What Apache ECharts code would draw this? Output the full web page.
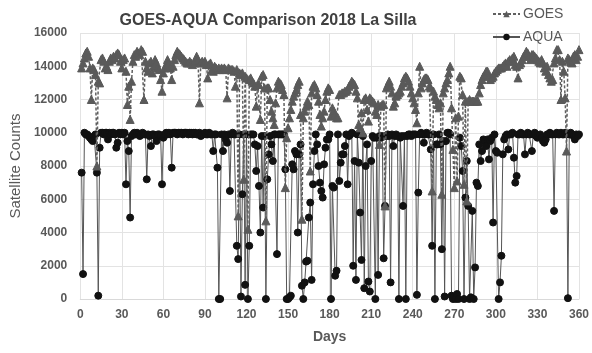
<!DOCTYPE html>
<html>
<head>
<meta charset="utf-8">
<script src="https://cdn.jsdelivr.net/npm/echarts@6/dist/echarts.min.js"></script>
<style>html,body{margin:0;padding:0;background:#fff}#c{width:592px;height:353px}</style>
</head>
<body>
<div id="c"></div>
<script>
const xTicks = [0, 30, 60, 90, 120, 150, 180, 210, 240, 270, 300, 330, 360];
const yTicks = [0, 2000, 4000, 6000, 8000, 10000, 12000, 14000, 16000];

// GOES counts, day 1 .. 360
const goes = [
13900,14200,14500,14800,14900,14600,13900,12000,13900,13800,
13500,8000,13100,13000,14400,14500,14300,13900,14000,13800,
14300,14500,14400,14600,14500,14700,14800,14700,14300,13900,
14400,14500,13700,11700,12800,10800,13100,14300,14700,14600,
14900,14800,14700,15000,14900,12000,14300,13900,13700,14200,
14300,13600,14000,14400,14200,13900,13800,13200,12500,13600,
13900,14100,14400,14200,13900,13200,14000,14400,14700,14900,
14800,14700,14600,14500,14400,14300,14200,14200,14300,14200,
14100,14200,14300,14600,14400,11800,14200,14300,14200,14300,
14100,13300,14100,14200,13800,13700,14000,13900,13800,13900,
13800,13900,13800,13900,13800,12100,13900,13800,13800,13800,
13700,12800,13800,5000,13600,13500,13600,7200,13400,13300,
4200,13200,13300,13100,13000,12800,11600,12900,12900,10800,
13400,13500,12700,4700,12700,12700,12000,11300,10900,10500,
11800,12700,13100,13000,12900,12600,12300,6700,9700,10300,
10900,11400,11900,12200,12400,12600,12900,13100,11100,4800,
10900,11300,11600,11900,11700,7700,12400,12800,12900,12700,
12300,11900,11100,10400,10900,11300,12000,12500,12700,12600,
11000,11500,11300,11100,10900,10900,12300,12300,12400,12400,
12500,12500,12600,12800,12900,13100,13000,12900,12500,12100,
10500,10300,11200,10000,12000,12100,11400,10700,12100,12000,
11900,11800,11300,11100,11700,9300,11600,11700,11700,5600,
12700,12900,13100,12800,12400,11600,11800,12200,12300,12400,
12500,12800,13000,13300,13400,13300,13100,12800,12400,12100,
11800,11400,10600,12400,14000,12700,13000,13200,13300,13300,
13200,12800,12700,6500,12500,12200,12000,11700,11500,11800,
6300,12400,12700,13000,13200,13600,14000,11500,9000,6700,
10900,7100,11000,13400,13300,12300,6900,11900,5900,11900,
12000,11900,11900,11900,11900,11900,11900,12400,12900,13200,
13400,13500,13700,13700,13400,13200,13300,13400,13600,13700,
13800,13900,13900,13900,14000,14100,14200,14000,14300,14400,
14300,14500,14600,14100,14000,13300,14100,14200,14400,14600,
14700,14900,14800,14600,14400,14700,14700,14600,14500,14400,
14300,14200,14400,14200,13900,13700,14000,13500,13300,13100,
13200,14200,14500,15000,15000,14400,12000,14300,13700,12100,
8900,14500,14400,14300,14200,14600,14700,14400,14600,15000
];

// AQUA counts, day 1 .. 360
const aqua = [
7600,1500,10000,9900,9900,9800,9700,9600,9500,9800,
9900,7600,200,9100,10000,10000,9900,10000,10000,9600,
10000,9900,10000,10000,9900,9100,9400,10000,9900,10000,
9900,10000,6900,9500,8900,4900,9800,9900,10000,9900,
10000,9900,9800,9900,10000,9900,9900,7200,9900,9800,
9200,9900,9900,9800,9500,9900,9900,9800,6900,9700,
9900,10000,9900,10000,9900,7900,10000,10000,10000,9900,
10000,10000,10000,9900,10000,10000,10000,9900,10000,10000,
9900,10000,10000,9900,9900,10000,9800,9900,9900,10000,
9900,9900,10000,9900,9900,8900,9900,9900,7900,0,
0,9900,8900,9900,9600,9400,9900,6500,9900,10000,
9900,9900,3200,2400,9900,150,6300,9900,850,9900,
0,3200,9900,9900,9900,9300,7700,9200,6800,4000,
9800,5500,9800,0,7200,8700,9800,9300,8300,9900,
9900,2700,9900,9900,9900,9900,9900,7800,0,0,
100,200,8100,7800,8900,8700,4000,8700,9300,800,
0,1000,2250,2300,4900,5800,1150,6900,8900,9900,
9300,8000,7000,6500,6100,8100,9100,9600,9600,9900,
0,6800,6700,1400,1700,9900,7100,8200,8700,8700,
9200,9900,6900,9800,9900,10000,2000,8300,1150,9900,
8200,5200,2350,9800,650,8000,9300,1050,450,8300,
9800,9700,0,9700,1450,9800,9700,9800,2450,5600,
9800,9900,9800,1000,9900,9200,9800,9900,9800,0,
9700,9800,5600,9800,0,9800,9900,9900,9800,9900,
9900,9900,250,6400,9900,10000,9900,9400,9900,10000,
9900,9900,9000,3200,9900,0,9300,9300,9900,9300,
3000,9500,150,9500,10000,10000,9900,200,0,150,
0,300,0,9700,9200,7700,0,6100,8300,5600,
0,100,5300,0,1900,7000,6800,9300,8300,8900,
9600,9500,9200,9600,8400,9500,9700,4600,9900,8900,
8800,0,1000,2600,8700,9600,9800,9900,9000,9900,
9900,10000,8500,7000,7400,9900,9900,10000,9900,9900,
8700,9900,10000,9900,9900,8900,9900,10000,9800,9700,
9800,9900,9700,9500,9400,9600,9900,9900,10000,9900,
9900,5300,9900,10000,9900,9900,10000,9900,9900,10000,
9900,50,9900,10000,9900,9800,9600,9900,9800,9900
];

const toPairs = arr => arr.map((v, i) => [i + 1, v]);
const gray = '#595959';
const font = "'Liberation Sans', Arial, sans-serif";
const chart = echarts.init(document.getElementById('c'), null, {renderer: 'canvas'});
chart.setOption({
  animation: false,
  backgroundColor: '#fff',
  title: {
    text: 'GOES-AQUA Comparison 2018 La Silla',
    left: 263, top: 8, textAlign: 'center',
    textStyle: {fontFamily: font, fontSize: 16, fontWeight: 'bold', color: '#404040'}
  },
  legend: {
    orient: 'vertical', left: 487, top: 2, itemGap: 9, itemWidth: 27, itemHeight: 8,
    data: ['GOES', 'AQUA'],
    textStyle: {fontFamily: font, fontSize: 14, color: gray, padding: [0, 0, 0, -2]}
  },
  grid: {left: 70, right: 9, top: 33, bottom: 54, containLabel: false},
  xAxis: {
    type: 'value', min: 0, max: 360, interval: 30,
    name: 'Days', nameLocation: 'middle', nameGap: 31,
    nameTextStyle: {fontFamily: font, fontSize: 14, fontWeight: 'bold', color: gray},
    axisLine: {show: true, lineStyle: {color: '#d9d9d9'}},
    axisTick: {show: false},
    splitLine: {show: true, lineStyle: {color: '#e3e3e3'}},
    axisLabel: {margin: 10, fontSize: 12, fontWeight: 'bold', color: gray, fontFamily: font}
  },
  yAxis: {
    type: 'value', min: 0, max: 16000, interval: 2000,
    name: 'Satellite Counts', nameLocation: 'middle', nameGap: 46,
    nameTextStyle: {fontFamily: font, fontSize: 15, color: gray},
    axisLine: {show: false},
    axisTick: {show: false},
    splitLine: {show: true, lineStyle: {color: '#e3e3e3'}},
    axisLabel: {margin: 13, fontSize: 12, fontWeight: 'bold', color: gray, fontFamily: font,
      formatter: v => String(v)}
  },
  series: [
    {
      name: 'AQUA', type: 'line', data: toPairs(aqua), z: 2,
      symbol: 'circle', symbolSize: 7, showAllSymbol: true,
      lineStyle: {color: '#555', width: 1},
      itemStyle: {color: '#111', borderColor: '#111'}
    },
    {
      name: 'GOES', type: 'line', data: toPairs(goes), z: 3,
      symbol: 'triangle', symbolSize: 8, showAllSymbol: true,
      lineStyle: {color: '#606060', width: 1.5, type: [3, 2]},
      itemStyle: {color: '#5a5a5a', borderColor: '#5a5a5a'}
    }
  ]
});
</script>
</body>
</html>
